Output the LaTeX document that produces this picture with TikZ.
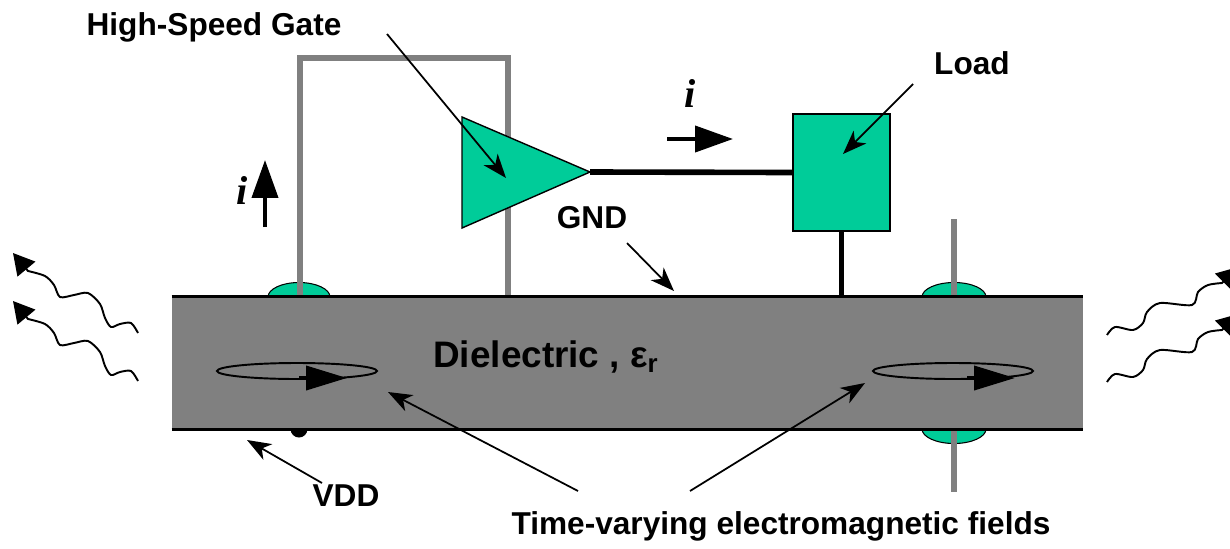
\documentclass[tikz,border=0pt]{standalone}
\usepackage{fontspec}
\setmainfont{Liberation Sans}
\newfontfamily\timesfont{Liberation Serif}
\usetikzlibrary{arrows.meta}

\definecolor{padgreen}{RGB}{0,204,153}
\definecolor{boardgray}{RGB}{128,128,128}

\tikzset{
	lbl/.style={font=\fontsize{18}{20}\selectfont\bfseries, inner sep=0pt},
	ilbl/.style={font=\timesfont\fontsize{23}{25}\selectfont\bfseries\itshape, inner sep=0pt},
	pointer/.style={line width=1pt, -{Stealth[length=0.48cm, width=0.36cm, inset=0.14cm]}},
	trace/.style={line width=3.4pt, color=boardgray},
	pad/.style={fill=padgreen, draw=black, line width=0.6pt},
	wire/.style={line width=3.2pt},
	current/.style={line width=2.3pt, -{Triangle[length=0.76cm, width=0.52cm]}},
	field/.style={line width=1.1pt},
	fieldarrow/.style={line width=2.2pt, -{Triangle[length=0.82cm, width=0.48cm]}},
	wave/.style={line width=1.1pt, -{Triangle[length=0.42cm, width=0.46cm]}},
}

\begin{document}
\begin{tikzpicture}[x=0.02cm, y=-0.02cm]
	\useasboundingbox (0,0) rectangle (1230,548);

	% vias and the VDD bump, half hidden by the board
	\draw[pad] (299,297) ellipse [x radius=0.62cm, y radius=0.29cm];
	\draw[pad] (954,297) ellipse [x radius=0.64cm, y radius=0.29cm];
	\draw[pad] (954,429) ellipse [x radius=0.64cm, y radius=0.29cm];
	\fill (299,429) circle [radius=0.17cm];

	% gray supply loop and the through via
	\coordinate (viaL) at (300,297);
	\coordinate (viaR) at (508,297);
	\coordinate (looptop) at (508,58);
	\draw[trace] (viaL) |- (looptop) -- (viaR);
	\coordinate (viatop) at (954,219);
	\coordinate (viabot) at (954,492);
	\draw[trace] (viatop) -- (viabot);

	% the board
	\node[fill=boardgray, minimum width=18.22cm, minimum height=2.64cm, inner sep=0pt] (board) at (627.5,363) {};
	\draw[line width=1.7pt] (board.north west) -- (board.north east);
	\draw[line width=1.7pt] (board.south west) -- (board.south east);
	\node[font=\fontsize{21}{23}\selectfont\bfseries] (diel) at (546,357) {Dielectric , ε\textsubscript{r}};

	% field loops
	\draw[field] (297,371) ellipse [x radius=1.6cm, y radius=0.16cm];
	\coordinate (loopLa) at (299,378);
	\draw[fieldarrow] (loopLa) -- ++(48,0);
	\draw[field] (953,371) ellipse [x radius=1.6cm, y radius=0.16cm];
	\coordinate (loopRa) at (967,378);
	\draw[fieldarrow] (loopRa) -- ++(48,0);

	% gate and load
	\coordinate (gatetop) at (462,117);
	\coordinate (gateout) at (590,172);
	\coordinate (gatebot) at (462,228);
	\draw[pad, line width=0.8pt] (gatetop) -- (gateout) -- (gatebot) -- cycle;
	\node[pad, minimum width=1.94cm, minimum height=2.34cm, inner sep=0pt] (load) at (841.5,172.5) {};
	\draw[wire] (gateout) -- (load.west);
	\draw[wire] (load.south) -- (load.south |- board.north);

	% currents
	\node[ilbl] (iup) at (242,190) {i};
	\coordinate (iupfoot) at (265,227);
	\draw[current] (iupfoot) -- ++(0,-67);
	\node[ilbl] (iright) at (690,93) {i};
	\coordinate (irightfoot) at (667,139);
	\draw[current] (irightfoot) -- ++(66,0);

	% labels
	\node[lbl] (gatelbl) at (214,27) {High-Speed Gate};
	\node[lbl] (loadlbl) at (972,63) {Load};
	\node[lbl] (gndlbl) at (592,218) {GND};
	\node[lbl] (vddlbl) at (346,496) {VDD};
	\node[lbl] (fieldlbl) at (781,526) {Time-varying electromagnetic fields};

	\coordinate (gatefrom) at (387,34);
	\coordinate (gateto) at (506,178);
	\draw[pointer] (gatefrom) -- (gateto);
	\coordinate (loadfrom) at (913,84);
	\coordinate (loadto) at (843,154);
	\draw[pointer] (loadfrom) -- (loadto);
	\coordinate (gndfrom) at (627,243);
	\coordinate (gndto) at (674,291);
	\draw[pointer] (gndfrom) -- (gndto);
	\coordinate (vddfrom) at (322,483);
	\coordinate (vddto) at (247,440);
	\draw[pointer] (vddfrom) -- (vddto);
	\coordinate (fieldfromL) at (578,491);
	\coordinate (fieldtoL) at (388,392);
	\draw[pointer] (fieldfromL) -- (fieldtoL);
	\coordinate (fieldfromR) at (690,491);
	\coordinate (fieldtoR) at (865,383);
	\draw[pointer] (fieldfromR) -- (fieldtoR);

	% radiated waves
	\foreach \dy in {0,48} {
		\begin{scope}[yshift=-\dy*0.02cm]
			\draw[wave] plot[smooth] coordinates {(138,333) (131,323) (120,324) (111,327) (105,318) (100,304) (88,293) (74,295) (60,297) (54,285) (45,276) (28,271)} -- (13,253);
		\end{scope}
	}
	\foreach \dy in {0,47} {
		\begin{scope}[yshift=-\dy*0.02cm]
			\draw[wave] plot[smooth] coordinates {(1107,335) (1115,327) (1133,330) (1143,323) (1147,312) (1160,303) (1192,305) (1198,292) (1208,285) (1222,283)} -- (1238,267);
		\end{scope}
	}
\end{tikzpicture}
\end{document}
